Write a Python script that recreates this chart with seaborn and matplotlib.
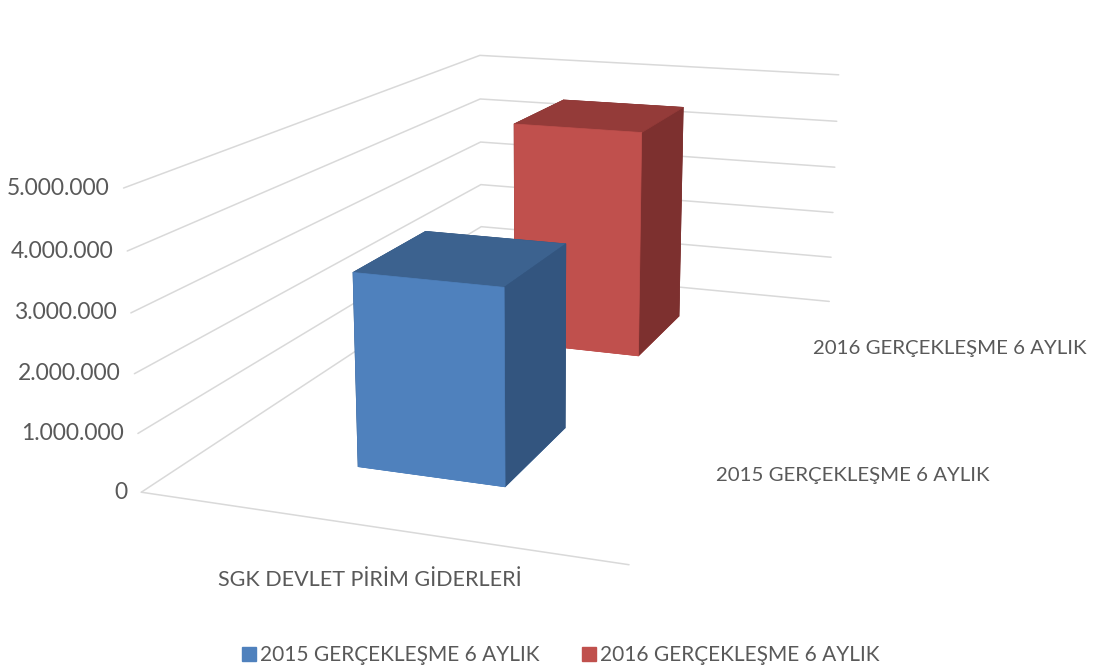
import matplotlib
matplotlib.use("Agg")
import matplotlib.pyplot as plt
import matplotlib.transforms as mtransforms
from matplotlib.patches import Patch
from mpl_toolkits.mplot3d import proj3d
import numpy as np
import seaborn as sns

# Data
categories = ["SGK DEVLET PİRİM GİDERLERİ"]
series = ["2015 GERÇEKLEŞME 6 AYLIK", "2016 GERÇEKLEŞME 6 AYLIK"]
values = [3350000, 4500000]
ticks = [0, 1000000, 2000000, 3000000, 4000000, 5000000]
tick_labels = ["0", "1.000.000", "2.000.000", "3.000.000", "4.000.000", "5.000.000"]

front_colors = ["#4F81BD", "#C0504D"]
top_colors = ["#3C628F", "#943B39"]
side_colors = ["#33557F", "#7D302F"]
grid_color = "#d9d9d9"
text_color = "#595959"

sns.set_theme(style="white")
plt.rcParams["font.family"] = ["Lato", "DejaVu Sans"]

W, H = 1095, 670
fig = plt.figure(figsize=(W / 100, H / 100), dpi=100, facecolor="white")
ax = fig.add_subplot(projection="3d", computed_zorder=False)
ax.set_xlim(-0.5, 0.5)
ax.set_ylim(-0.5, 1.5)
ax.set_zlim(0, ticks[-1])
ax.set_box_aspect((8.6, 15.5, 5.25))
ax.view_init(elev=14.6, azim=-70)
ax.set_proj_type("persp", focal_length=0.37)
ax.set_axis_off()
ax.patch.set_visible(False)

# walls: gridlines on left and back wall, front floor edge
for v in ticks:
    ax.plot([-0.5, -0.5, 0.5], [-0.5, 1.5, 1.5], [v, v, v], color=grid_color, lw=1.1, zorder=1)
ax.plot([-0.5, 0.5], [-0.5, -0.5], [0, 0], color=grid_color, lw=1.1, zorder=1)

# bars (back series first)
bw, bd = 0.32, 0.4
for i in reversed(range(len(series))):
    face = [front_colors[i], top_colors[i], front_colors[i], side_colors[i], side_colors[i], side_colors[i]]
    ax.bar3d(-bw / 2, i - bd / 2, 0, bw, bd, values[i], color=face, edgecolor=face, linewidth=0.5,
             shade=False, zorder=2 + (len(series) - i))

# place the axes so the floor corner and the far wall corner land where wanted
M = ax.get_proj()
xp, yp, _ = proj3d.proj_transform(np.array([-0.5, 0.5]), np.array([-0.5, 1.5]),
                                  np.array([0, ticks[-1]]), M)
target = np.array([[143, H - 495], [837, H - 72]], dtype=float)
P = np.column_stack([xp, yp])
S = np.linalg.norm(target[1] - target[0]) / np.linalg.norm(P[1] - P[0])
vx0, vx1 = ax.viewLim.intervalx
vy0, vy1 = ax.viewLim.intervaly
v0 = np.array([vx0, vy0])
L, B = (target - S * (P - v0)).mean(axis=0)
ax.set_position([L / W, B / H, S * (vx1 - vx0) / W, S * (vy1 - vy0) / H])


def label(x, y, z, s, dx, dy, **kw):
    px, py, _ = proj3d.proj_transform(x, y, z, M)
    tr = ax.transData + mtransforms.ScaledTranslation(dx / 100, dy / 100, fig.dpi_scale_trans)
    ax.text2D(px, py, s, transform=tr, color=text_color, **kw)


for v, lab in zip(ticks, tick_labels):
    label(-0.5, -0.5, v, lab, -14, 0, ha="right", va="center", fontsize=16.5)
label(0, -0.5, 0, categories[0], -4, -53, ha="center", va="center", fontsize=15.5)
for i, s in enumerate(series):
    label(0.5, i, 0, s, 20, 1, ha="left", va="center", fontsize=14.7)

handles = [Patch(color=c) for c in front_colors]
fig.legend(handles, series, loc="center", bbox_to_anchor=(0.512, 0.022), ncol=2, frameon=False,
           fontsize=15, labelcolor=text_color, handlelength=0.65, handleheight=0.65,
           handletextpad=0.2, columnspacing=2.05)

fig.savefig("out.png", dpi=100)
